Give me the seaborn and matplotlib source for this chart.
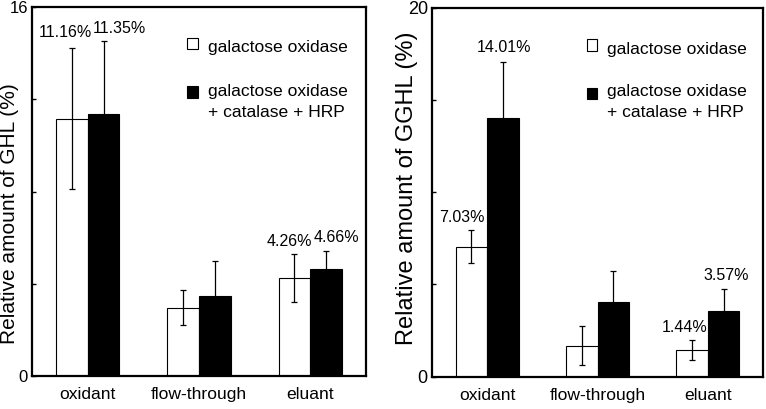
import matplotlib
matplotlib.use("Agg")
import matplotlib.pyplot as plt
from matplotlib.patches import Patch
import seaborn as sns
import pandas as pd

# ---------------- data ----------------
categories = ["oxidant", "flow-through", "eluant"]
series = ["galactose oxidase", "galactose oxidase\n+ catalase + HRP"]

ghl_go = [11.16, 2.96, 4.26]
ghl_go_err = [3.07, 0.75, 1.05]
ghl_cat = [11.35, 3.45, 4.66]
ghl_cat_err = [3.17, 1.53, 0.78]

gghl_go = [7.03, 1.67, 1.44]
gghl_go_err = [0.90, 1.07, 0.52]
gghl_cat = [14.01, 4.02, 3.57]
gghl_cat_err = [3.05, 1.68, 1.17]

ghl_labels = ["11.16%", "11.35%", "4.26%", "4.66%"]
gghl_labels = ["7.03%", "14.01%", "1.44%", "3.57%"]

ghl_ylabel = "Relative amount of GHL (%)"
gghl_ylabel = "Relative amount of GGHL (%)"

# ---------------- style ----------------
sns.set_theme(style="white")
plt.rcParams["font.family"] = ["Liberation Sans", "DejaVu Sans"]

fig = plt.figure(figsize=(7.66, 4.09), dpi=100)
ax1 = fig.add_axes([32 / 766, 33 / 409, 334 / 766, 369 / 409])
ax2 = fig.add_axes([432 / 766, 32.5 / 409, 331 / 766, 369 / 409])


def panel(ax, go, go_err, cat, cat_err, ymax, step, ylabel, ylab_size,
          ylab_xy, tick_size, labels, label_pos, leg_x, leg_ys):
    df = pd.DataFrame({
        "category": categories * 2,
        "series": [series[0]] * 3 + [series[1]] * 3,
        "value": go + cat,
    })
    sns.barplot(data=df, x="category", y="value", hue="series",
                order=categories, hue_order=series,
                palette=["white", "black"], edgecolor="black", linewidth=0.8,
                width=0.57, errorbar=None, legend=False, ax=ax, zorder=2)
    # error bars at bar centres
    bars = sorted(ax.patches, key=lambda p: p.get_x())
    vals = []
    errs = []
    for i in range(3):
        vals += [go[i], cat[i]]
        errs += [go_err[i], cat_err[i]]
    xs = [b.get_x() + b.get_width() / 2 for b in bars]
    ax.errorbar(xs, vals, yerr=errs, fmt="none", ecolor="black",
                elinewidth=0.9, capsize=2.5, capthick=0.9, zorder=3)

    ax.set_xlim(-0.5, 2.5)
    ax.set_ylim(0, ymax)
    ticks = list(range(0, ymax + 1, step))
    ax.set_yticks(ticks)
    ax.set_yticklabels([str(t) if t in (0, ymax) else "" for t in ticks])
    ax.tick_params(axis="y", direction="in", length=3, width=1, pad=3,
                   labelsize=tick_size, left=True, colors="black")
    ax.tick_params(axis="x", length=0, pad=8, labelsize=12.6, colors="black")
    ax.set_xlabel("")
    ax.set_ylabel(ylabel, fontsize=ylab_size, color="black")
    ax.yaxis.set_label_coords(*ylab_xy)
    for s in ax.spines.values():
        s.set_visible(True)
        s.set_linewidth(1.6)
        s.set_color("black")

    for txt, (x, y) in zip(labels, label_pos):
        ax.text(x, y, txt, ha="center", va="center", fontsize=11.5,
                color="black")

    handles = [Patch(facecolor="white", edgecolor="black", linewidth=0.8),
               Patch(facecolor="black", edgecolor="black", linewidth=0.8)]
    first, second = series[1].split("\n")
    ax.text(leg_x, leg_ys[0], series[0], transform=ax.transAxes,
            ha="left", va="center", fontsize=12.6, color="black")
    ax.text(leg_x, leg_ys[1], first, transform=ax.transAxes,
            ha="left", va="center", fontsize=12.6, color="black")
    ax.text(leg_x, leg_ys[2], second, transform=ax.transAxes,
            ha="left", va="center", fontsize=12.6, color="black")
    # legend swatches
    ax.legend(handles=handles, labels=["", ""], loc="center left",
              bbox_to_anchor=(leg_x - 0.062, (leg_ys[0] + leg_ys[1]) / 2),
              frameon=False, handlelength=0.6, handleheight=0.6,
              handletextpad=0, borderpad=0, borderaxespad=0,
              labelspacing=1.9, fontsize=12.6)


panel(ax1, ghl_go, ghl_go_err, ghl_cat, ghl_cat_err, 16, 4, ghl_ylabel,
      15, (-0.040, 0.44), 12, ghl_labels,
      [(-0.199, 14.9), (0.281, 15.06), (1.809, 5.85), (2.238, 6.0)],
      0.527, [0.889, 0.772, 0.713])
panel(ax2, gghl_go, gghl_go_err, gghl_cat, gghl_cat_err, 20, 5, gghl_ylabel,
      17, (-0.043, 0.51), 13, gghl_labels,
      [(-0.228, 8.64), (0.153, 17.83), (1.794, 2.63), (2.165, 5.45)],
      0.529, [0.885, 0.772, 0.715])

fig.savefig("out.png", dpi=100)
